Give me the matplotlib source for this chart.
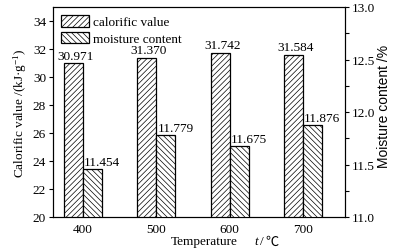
import matplotlib
matplotlib.use("Agg")
import matplotlib.pyplot as plt
import numpy as np
from matplotlib.ticker import MultipleLocator, FormatStrFormatter

plt.rcParams['font.family'] = ['Liberation Serif', 'Noto Sans CJK SC', 'DejaVu Sans']
plt.rcParams['hatch.linewidth'] = 0.5
plt.rcParams['mathtext.fontset'] = 'custom'
plt.rcParams['mathtext.rm'] = 'Liberation Serif'
plt.rcParams['mathtext.it'] = 'Liberation Serif:italic'

temperatures = ['400', '500', '600', '700']
calorific = [30.971, 31.370, 31.742, 31.584]
moisture = [11.454, 11.779, 11.675, 11.876]

W, H = 394, 253
fig = plt.figure(figsize=(W/100, H/100), dpi=100)
ax = fig.add_axes([53/W, 1-218/H, 292/W, 210/H])
ax2 = ax.twinx()

x = np.arange(len(temperatures))
w = 0.26
b1 = ax.bar(x - w/2, calorific, w, color='white', edgecolor='black',
            hatch='//////', linewidth=0.9, label='calorific value')
b2 = ax2.bar(x + w/2, moisture, w, color='white', edgecolor='black',
             hatch='\\\\\\\\\\\\', linewidth=0.9, label='moisture content')

ax.set_ylim(20, 35)
ax2.set_ylim(11.0, 13.0)
ax.set_xlim(-0.41, 3.575)
ax.set_xticks(x)
ax.set_xticklabels(temperatures)
ax.yaxis.set_major_locator(MultipleLocator(2))
ax2.yaxis.set_major_locator(MultipleLocator(0.5))
ax2.yaxis.set_minor_locator(MultipleLocator(0.25))
ax2.yaxis.set_major_formatter(FormatStrFormatter('%.1f'))

for a in (ax, ax2):
    a.tick_params(labelsize=9.5, direction='out', length=3, width=0.8, pad=2)
    a.tick_params(which='minor', direction='out', length=3, width=0.8)
ax.tick_params(axis='x', length=0, pad=4)

for xi, v in zip(x, calorific):
    ax.text(xi - w/2 + 0.03, v + 0.1, f'{v:.3f}', ha='center', va='bottom', fontsize=9.5)
for xi, v in zip(x, moisture):
    ax2.text(xi + w, v + 0.008, f'{v:.3f}', ha='center', va='bottom', fontsize=9.5)

ax.set_ylabel('Calorific value /(kJ·g$^{-1}$)', fontsize=9.5, labelpad=3)
fig.text(384/W, 1 - 106/H, 'Moisture content /%', fontsize=10, rotation=90,
         ha='center', va='center', family=['Liberation Sans', 'DejaVu Sans'])

# x-axis label composed of pieces (italic t, degree-Celsius sign)
ly = 1 - 242/H
fig.text(171/W, ly, 'Temperature', fontsize=9.5, ha='left', va='center')
fig.text(254/W, ly, 't', fontsize=9.5, ha='left', va='center', style='italic')
fig.text(260/W, ly, '/', fontsize=9.5, ha='left', va='center')
fig.text(265/W, ly, '℃', fontsize=9.5, ha='left', va='center',
         family=['Noto Sans CJK SC', 'DejaVu Sans'])

ax.legend([b1, b2], ['calorific value', 'moisture content'], loc='upper left',
          frameon=False, fontsize=9.5, handlelength=2.1, handleheight=1.0,
          borderaxespad=0.2, labelspacing=0.25, handletextpad=0.3,
          bbox_to_anchor=(0.0, 1.0))

for a in (ax, ax2):
    for s in a.spines.values():
        s.set_linewidth(0.8)

fig.savefig('out.png', dpi=100)
